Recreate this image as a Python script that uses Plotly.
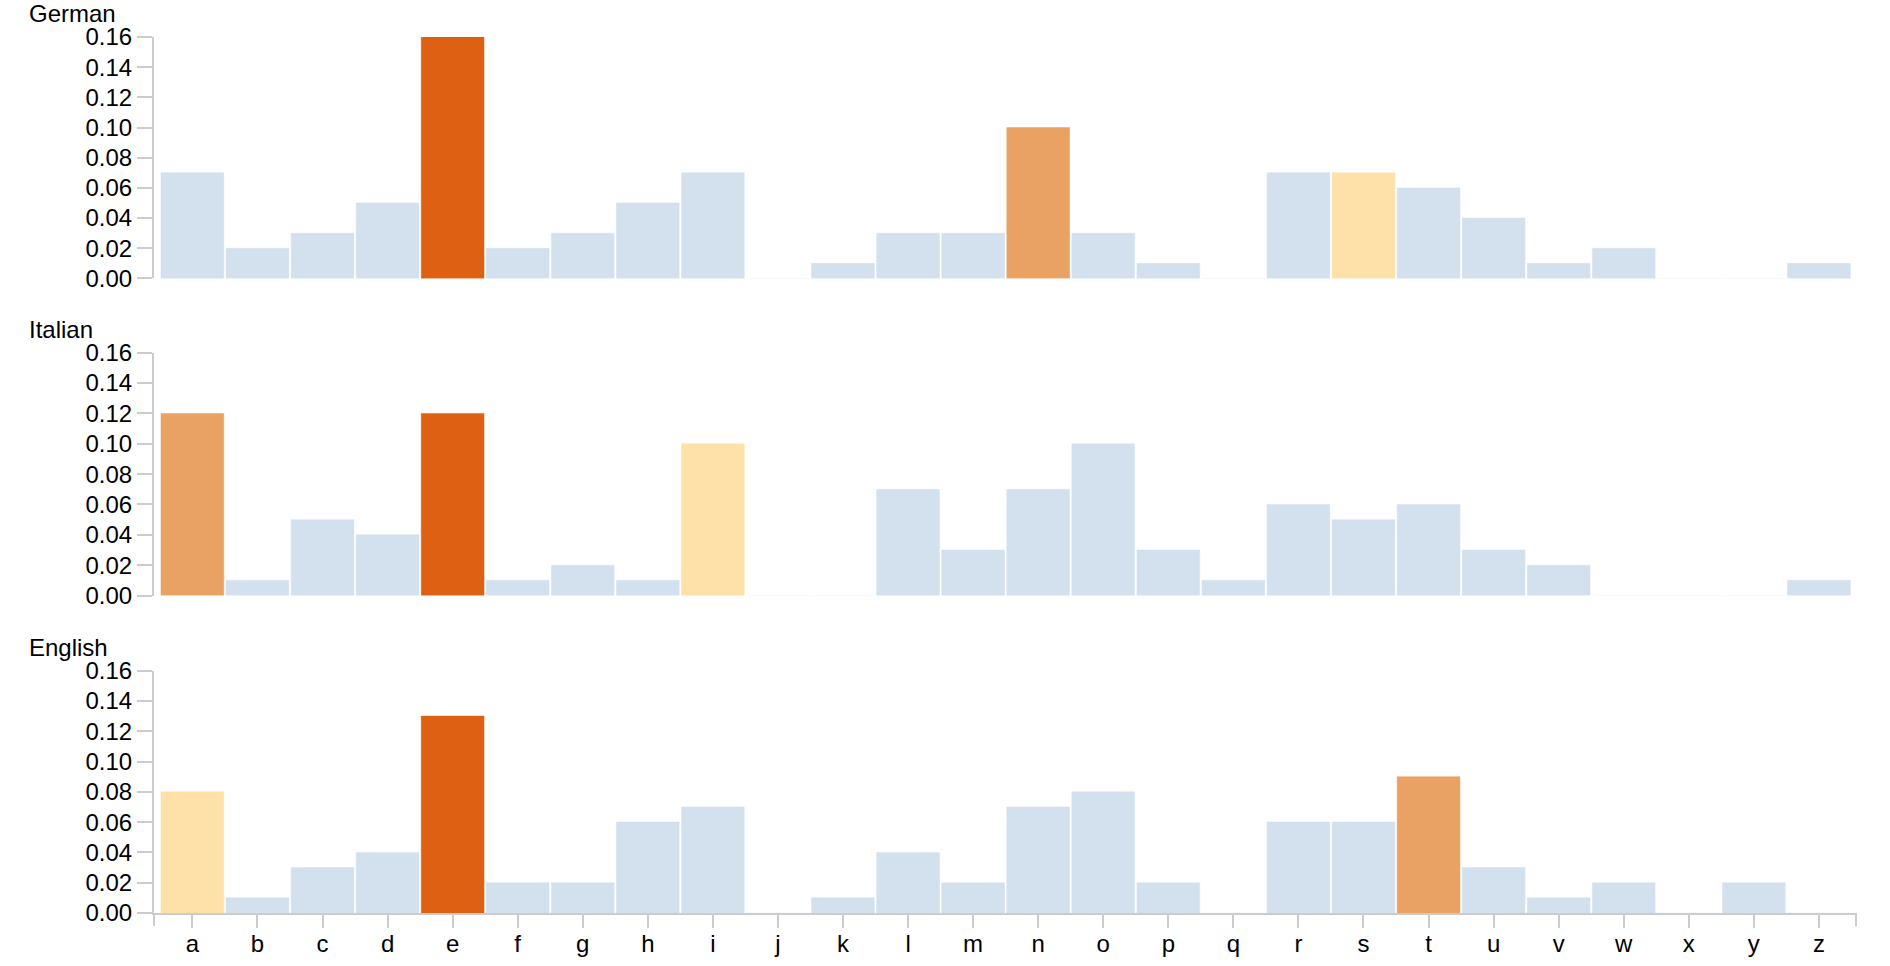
import plotly.graph_objects as go
from plotly.subplots import make_subplots

letters = list("abcdefghijklmnopqrstuvwxyz")
languages = ["German", "Italian", "English"]

german = [0.07, 0.02, 0.03, 0.05, 0.16, 0.02, 0.03, 0.05, 0.07, 0.00, 0.01, 0.03, 0.03,
          0.10, 0.03, 0.01, 0.00, 0.07, 0.07, 0.06, 0.04, 0.01, 0.02, 0.00, 0.00, 0.01]
italian = [0.12, 0.01, 0.05, 0.04, 0.12, 0.01, 0.02, 0.01, 0.10, 0.00, 0.00, 0.07, 0.03,
           0.07, 0.10, 0.03, 0.01, 0.06, 0.05, 0.06, 0.03, 0.02, 0.00, 0.00, 0.00, 0.01]
english = [0.08, 0.01, 0.03, 0.04, 0.13, 0.02, 0.02, 0.06, 0.07, 0.00, 0.01, 0.04, 0.02,
           0.07, 0.08, 0.02, 0.00, 0.06, 0.06, 0.09, 0.03, 0.01, 0.02, 0.00, 0.02, 0.00]

# rank of each letter within its language (1 = most frequent, 0 = not in top 3)
german_rank = {"e": 1, "n": 2, "s": 3}
italian_rank = {"e": 1, "a": 2, "i": 3}
english_rank = {"e": 1, "t": 2, "a": 3}

rank_colors = {1: "#de6013", 2: "#e9a263", 3: "#fee0a9", 0: "#d3e1ee"}

y_ticks = [0.00, 0.02, 0.04, 0.06, 0.08, 0.10, 0.12, 0.14, 0.16]

series = [german, italian, english]
ranks = [german_rank, italian_rank, english_rank]

fig = make_subplots(rows=3, cols=1, shared_xaxes=False, vertical_spacing=0.0)

FONT = "Liberation Sans, Arial, sans-serif"
AXC = "#cccccc"
FS = 24

for i, (vals, rk) in enumerate(zip(series, ranks)):
    colors = [rank_colors[rk.get(l, 0)] for l in letters]
    line_colors = ["#eef2f7" if v == 0 else c for v, c in zip(vals, colors)]
    fig.add_trace(go.Bar(x=letters, y=vals, marker=dict(color=colors,
                                                        line=dict(color=line_colors, width=0.5)),
                         showlegend=False, hoverinfo="x+y"), row=i + 1, col=1)

domains = [[0.7244, 1.0], [0.3624, 0.6396], [0.0, 0.2767]]
for i in range(3):
    ax = "" if i == 0 else str(i + 1)
    fig.layout["yaxis" + ax].update(
        domain=domains[i], range=[0, 0.16], tickvals=y_ticks, tickformat=".2f",
        showline=True, linecolor=AXC, linewidth=2, ticks="outside", ticklen=15,
        tickwidth=2, tickcolor=AXC, showgrid=False, zeroline=False, automargin=False,
        tickfont=dict(family=FONT, size=FS, color="#000"))
    bottom = (i == 2)
    fig.layout["xaxis" + ax].update(
        range=[-0.59, 25.57], type="category", showgrid=False, zeroline=False,
        showline=bottom, linecolor=AXC, linewidth=2, automargin=False,
        ticks="outside" if bottom else "", ticklen=13, tickwidth=2, tickcolor=AXC,
        ticklabelstandoff=-5,
        showticklabels=bottom, tickfont=dict(family=FONT, size=FS, color="#000"),
        anchor="y" + ax)
    fig.add_annotation(text=languages[i], xref="paper", yref="y" + ax + " domain",
                       x=-0.0741, y=1, xanchor="left", yanchor="bottom", yshift=9,
                       borderpad=0, showarrow=False,
                       font=dict(family=FONT, size=FS, color="#000"))

# end caps of the bottom x axis
for xe in [0, 1]:
    fig.add_shape(type="line", xref="x3 domain", yref="y3 domain", x0=xe, x1=xe,
                  y0=0, y1=-0.0537, line=dict(color=AXC, width=2))

fig.update_layout(width=1890, height=966, bargap=0.035,
                  margin=dict(l=154, r=34, t=37, b=53),
                  paper_bgcolor="white", plot_bgcolor="white",
                  font=dict(family=FONT, color="#000"))

fig.write_html("out.html")
